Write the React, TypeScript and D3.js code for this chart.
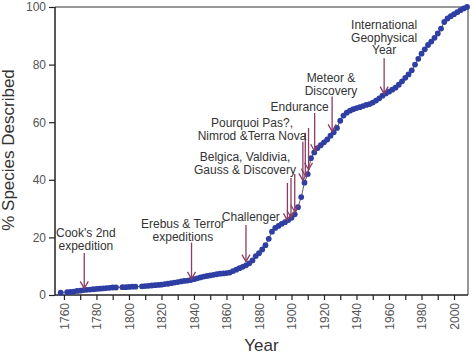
import { useEffect, useRef } from "react";
import * as d3 from "d3";

// cumulative % of species described (every 2 years)
const years = [
  1758, 1762, 1764, 1766, 1768, 1770, 1772, 1774, 1776, 1778, 1780, 1782,
  1784, 1786, 1788, 1790, 1792, 1796, 1798, 1800, 1802, 1804, 1808, 1810,
  1812, 1814, 1816, 1818, 1820, 1822, 1824, 1826, 1828, 1830, 1832, 1834,
  1836, 1838, 1840, 1842, 1844, 1846, 1848, 1850, 1852, 1854, 1856, 1858,
  1860, 1862, 1864, 1866, 1868, 1870, 1872, 1874, 1876, 1878, 1880, 1882,
  1884, 1886, 1888, 1890, 1892, 1894, 1896, 1898, 1900, 1902, 1904, 1906,
  1908, 1910, 1912, 1914, 1916, 1918, 1920, 1922, 1924, 1926, 1928, 1930,
  1932, 1934, 1936, 1938, 1940, 1942, 1944, 1946, 1948, 1950, 1952, 1954,
  1956, 1958, 1960, 1962, 1964, 1966, 1968, 1970, 1972, 1974, 1976, 1978,
  1980, 1982, 1984, 1986, 1988, 1990, 1992, 1994, 1996, 1998, 2000, 2002,
  2004, 2006, 2008,
];
const percent = [
  0.8, 1.0, 1.1, 1.2, 1.4, 1.5, 1.7, 1.8, 1.9, 2.0, 2.1, 2.2,
  2.3, 2.4, 2.5, 2.6, 2.6, 2.7, 2.7, 2.8, 2.9, 2.9, 3.0, 3.1,
  3.2, 3.3, 3.4, 3.5, 3.6, 3.8, 3.9, 4.1, 4.3, 4.5, 4.7, 4.9,
  5.0, 5.2, 5.5, 5.8, 6.1, 6.4, 6.6, 6.8, 7.0, 7.2, 7.4, 7.5,
  7.6, 7.8, 8.3, 8.8, 9.3, 9.8, 10.3, 11.0, 12.0, 13.5, 14.5, 15.8,
  17.3, 19.5, 22.0, 23.3, 24.0, 24.7, 25.3, 26.0, 26.8, 28.0, 30.5, 34.0,
  39.0, 42.0, 47.5, 49.5, 51.0, 52.0, 53.0, 54.0, 55.3, 56.5, 58.0, 60.5,
  62.3, 63.3, 64.0, 64.5, 64.9, 65.2, 65.6, 66.0, 66.3, 66.8, 67.5, 68.3,
  69.2, 70.0, 70.6, 71.3, 72.0, 73.0, 74.2, 75.4, 76.6, 78.0, 80.0, 82.0,
  83.8, 85.3, 86.8, 88.0, 89.3, 90.8, 92.5, 94.8, 96.0, 96.8, 97.5, 98.2,
  98.9, 99.5, 100,
];

// expedition arrows
const arrowYears = [1772.5, 1838.5, 1872, 1897.5, 1899.7, 1902, 1907, 1908.5, 1910.5, 1914.25, 1925, 1957];
const arrowTop = [14.6, 18.2, 24.3, 38.9, 40.6, 42, 53.2, 56.3, 58, 63.2, 68.9, 82.2];
const arrowTip = [2.3, 5.6, 11.6, 25.9, 26.9, 28.9, 39.8, 41.4, 43.5, 49.9, 56.8, 69.9];

// expedition labels
const labelLines = [
  ["Cook's 2nd", "expedition"],
  ["Erebus & Terror", "expeditions"],
  ["Challenger"],
  ["Belgica, Valdivia,", "Gauss & Discovery"],
  ["Pourquoi Pas?,", "Nimrod &Terra Nova"],
  ["Endurance"],
  ["Meteor &", "Discovery"],
  ["International", "Geophysical", "Year"],
];
const labelYear = [1773.5, 1833.2, 1875, 1871.4, 1875.7, 1905, 1924.3, 1957];
const labelTop = [20.1, 23.3, 25.8, 46.5, 58.4, 64.0, 73.9, 92.4];

const xTicks = d3.range(1760, 2001, 20);
const xMinor = d3.range(1760, 2009, 10);
const yTicks = [0, 20, 40, 60, 80, 100];

export default function App() {
  const width = 473;
  const height = 354;
  const margin = { top: 7, right: 5, bottom: 59, left: 55 };
  const svgRef = useRef<SVGSVGElement>(null);

  useEffect(() => {
    const svg = d3.select(svgRef.current);
    svg.selectAll("*").remove();
    const font = "'Liberation Sans', Arial, sans-serif";

    const x = d3
      .scaleLinear()
      .domain([1754.5, 2008.6])
      .range([margin.left, width - margin.right]);
    const y = d3
      .scaleLinear()
      .domain([0, 100])
      .range([height - margin.bottom, margin.top]);

    const data = years.map((yr, i) => ({ yr, v: percent[i] }));

    // frame top/right
    svg
      .append("path")
      .attr("d", `M${x(1754.5)},${y(100)}H${x(2008.6)}V${y(0)}`)
      .attr("fill", "none")
      .attr("stroke", "#777")
      .attr("stroke-width", 1.5);

    // x axis
    const xa = svg
      .append("g")
      .attr("transform", `translate(0, ${y(0)})`)
      .call(
        d3
          .axisBottom(x)
          .tickValues(xMinor)
          .tickSize(5)
          .tickFormat((d) => (xTicks.includes(d as number) ? String(d) : ""))
      );
    xa.select(".domain").attr("stroke", "#222").attr("stroke-width", 1.5)
      .attr("d", `M${x(1754.5)},0H${x(2008.6)}`);
    xa.selectAll(".tick line").attr("stroke", "#222").attr("stroke-width", 1.2);
    xa.selectAll(".tick text")
      .attr("transform", "rotate(-90)")
      .attr("text-anchor", "end")
      .attr("x", -8)
      .attr("y", 0)
      .attr("dy", "0.35em")
      .attr("fill", "#555")
      .style("font-family", font)
      .style("font-size", "12px");

    // y axis
    const ya = svg
      .append("g")
      .attr("transform", `translate(${margin.left}, 0)`)
      .call(d3.axisLeft(y).tickValues(yTicks).tickSize(6));
    ya.select(".domain").attr("stroke", "#222").attr("stroke-width", 1.5)
      .attr("d", `M0,${y(100)}V${y(0)}`);
    ya.selectAll(".tick line").attr("stroke", "#222").attr("stroke-width", 1.2);
    ya.selectAll(".tick text")
      .attr("x", -9)
      .attr("fill", "#555")
      .style("font-family", font)
      .style("font-size", "12px");

    // series
    const line = d3
      .line<{ yr: number; v: number }>()
      .x((d) => x(d.yr))
      .y((d) => y(d.v));
    svg
      .append("path")
      .datum(data)
      .attr("d", line)
      .attr("fill", "none")
      .attr("stroke", "#333")
      .attr("stroke-width", 0.8);
    svg
      .append("g")
      .selectAll("circle")
      .data(data)
      .join("circle")
      .attr("cx", (d) => x(d.yr))
      .attr("cy", (d) => y(d.v))
      .attr("r", 2.9)
      .attr("fill", "#2e3ea3");

    // arrows
    const arrowColor = "#8b3d64";
    const ag = svg.append("g").attr("stroke", arrowColor).attr("fill", "none").attr("stroke-width", 1.3);
    arrowYears.forEach((yr, i) => {
      const ax = x(yr);
      const t = y(arrowTop[i]);
      const b = y(arrowTip[i]);
      ag.append("path").attr("d", `M${ax},${t}V${b}`);
      ag.append("path").attr("d", `M${ax - 4},${b - 7}L${ax},${b}L${ax + 4},${b - 7}`);
    });

    // labels
    labelLines.forEach((lines, i) => {
      const t = svg
        .append("text")
        .attr("x", x(labelYear[i]))
        .attr("y", y(labelTop[i]))
        .attr("text-anchor", "middle")
        .attr("fill", "#333")
        .style("font-family", font)
        .style("font-size", "12px");
      lines.forEach((l, j) => {
        t.append("tspan")
          .attr("x", x(labelYear[i]))
          .attr("dy", j === 0 ? 0 : 12.8)
          .text(l);
      });
    });

    // axis titles
    svg
      .append("text")
      .attr("x", (margin.left + width - margin.right) / 2)
      .attr("y", 351)
      .attr("text-anchor", "middle")
      .attr("fill", "#333")
      .style("font-family", font)
      .style("font-size", "17px")
      .text("Year");

    svg
      .append("text")
      .attr("transform", "rotate(-90)")
      .attr("x", -150)
      .attr("y", 14)
      .attr("text-anchor", "middle")
      .attr("fill", "#333")
      .style("font-family", font)
      .style("font-size", "17px")
      .text("% Species Described");
  }, [margin.bottom, margin.top, margin.right, margin.left]);

  return (
    <svg
      ref={svgRef}
      width={width}
      height={height}
      style={{ position: "absolute", left: 0, top: 0, background: "#fff" }}
    />
  );
}
